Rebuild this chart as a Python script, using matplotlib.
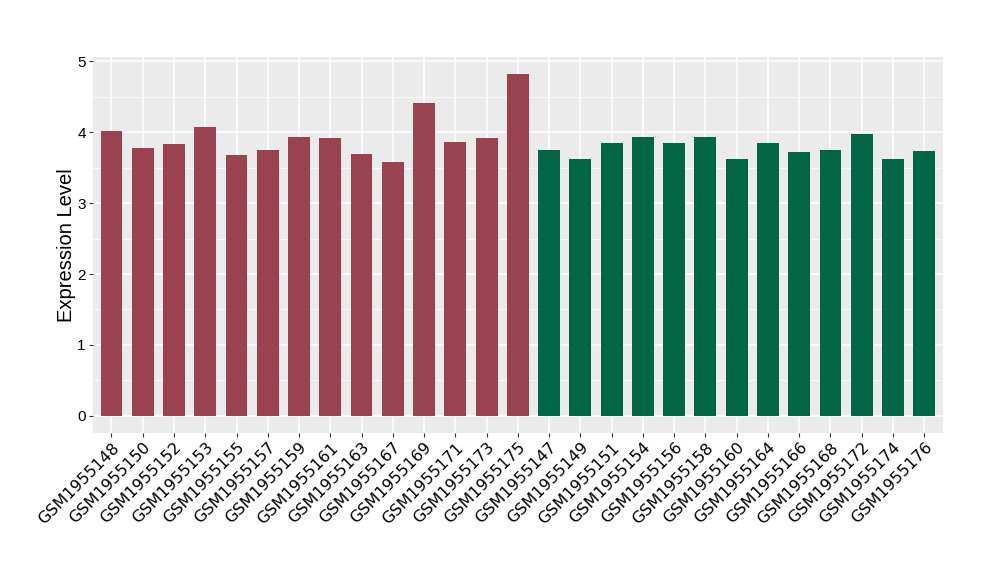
import matplotlib
matplotlib.use("Agg")
import matplotlib.pyplot as plt
from matplotlib.ticker import MultipleLocator

# samples in the order drawn
red_samples = ["GSM1955148", "GSM1955150", "GSM1955152", "GSM1955153", "GSM1955155",
               "GSM1955157", "GSM1955159", "GSM1955161", "GSM1955163", "GSM1955167",
               "GSM1955169", "GSM1955171", "GSM1955173", "GSM1955175"]
red_values = [4.01, 3.77, 3.83, 4.07, 3.68, 3.75, 3.93, 3.92, 3.69, 3.58,
              4.41, 3.86, 3.92, 4.82]

green_samples = ["GSM1955147", "GSM1955149", "GSM1955151", "GSM1955154", "GSM1955156",
                 "GSM1955158", "GSM1955160", "GSM1955164", "GSM1955166", "GSM1955168",
                 "GSM1955172", "GSM1955174", "GSM1955176"]
green_values = [3.75, 3.62, 3.85, 3.93, 3.85, 3.93, 3.62, 3.85, 3.72, 3.75,
                3.97, 3.62, 3.73]

samples = red_samples + green_samples
values = red_values + green_values
colors = ["#9B4251"] * len(red_samples) + ["#006645"] * len(green_samples)

fig = plt.figure(figsize=(10, 5.8), dpi=100)
ax = fig.add_axes([0.0927, 0.2534, 0.8503, 0.6483])

x = list(range(len(samples)))
ax.bar(x, values, width=0.7, color=colors, zorder=3)

ax.set_facecolor("#EBEBEB")
ax.set_xlim(-0.6, len(samples) - 0.4)
ax.set_ylim(-0.241, 5.058)
ax.yaxis.set_major_locator(MultipleLocator(1))
ax.yaxis.set_minor_locator(MultipleLocator(0.5))
ax.grid(which="major", color="white", linewidth=1.1, zorder=0)
ax.grid(which="minor", axis="y", color="white", linewidth=0.5, zorder=0)
ax.tick_params(which="minor", length=0)
for s in ax.spines.values():
    s.set_visible(False)

ax.set_xticks(x)
ax.set_xticklabels(samples, rotation=45, ha="right", va="top",
                   rotation_mode="anchor")
ax.tick_params(axis="both", which="major", length=3, width=0.8, color="#333333",
               labelcolor="black", pad=2)
for lab in ax.get_xticklabels():
    lab.set_fontfamily("DejaVu Sans")
    lab.set_fontsize(11.5)
for lab in ax.get_yticklabels():
    lab.set_fontfamily("Liberation Sans")
    lab.set_fontsize(11)

ax.set_ylabel("Expression Level", fontsize=14.5, family="Liberation Sans", labelpad=1)

fig.savefig("out.png", dpi=100)
